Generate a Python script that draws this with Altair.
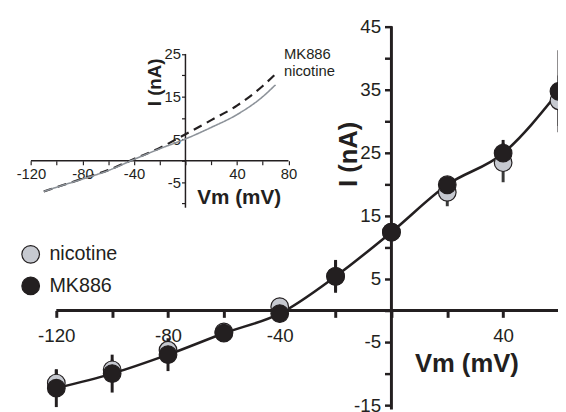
import altair as alt
import pandas as pd

# ---------------- data ----------------
vm = [-120, -100, -80, -60, -40, -20, 0, 20, 40, 60]
i_nicotine = [-11.5, -9.4, -6.3, -3.4, 0.6, 5.4, 12.4, 18.7, 23.4, 33.2]
err_nicotine = [2.1, 1.6, 1.0, 1.0, 1.0, 2.4, 1.0, 2.2, 3.1, 4.0]
i_mk886 = [-12.3, -10.0, -7.0, -3.6, -0.5, 5.4, 12.4, 19.9, 24.9, 34.7]
err_mk886 = [3.0, 3.0, 2.6, 1.0, 1.0, 2.6, 1.0, 1.0, 2.1, 6.5]

inset_vm = [-110, -100, -80, -60, -40, -20, 0, 20, 40, 60, 70]
inset_mk886 = [-7.2, -6.2, -4.2, -2.2, 0.4, 3.0, 6.2, 9.5, 12.9, 17.5, 20.3]
inset_nicotine = [-7.2, -6.2, -4.3, -2.3, 0.3, 2.8, 5.1, 7.8, 10.8, 15.0, 17.8]

series_order = ["nicotine", "MK886"]
main_x_ticks = list(range(-120, 61, 20))
main_y_ticks = list(range(-15, 46, 5))
inset_x_ticks = list(range(-120, 81, 20))
inset_y_ticks = list(range(-10, 26, 5))

# ---------------- styling ----------------
FONT = "Liberation Sans"
BLACK = "#231f20"
GRAY_FILL = "#c6c9d0"
GRAY_LINE = "#8c9299"
W, H = 558, 404

main_df = pd.DataFrame({
    "vm": vm + vm,
    "i": i_nicotine + i_mk886,
    "err": err_nicotine + err_mk886,
    "series": ["nicotine"] * len(vm) + ["MK886"] * len(vm),
})
main_axes_df = pd.DataFrame({"x1": [-120, 0], "x2": [60, 0], "y1": [0, -15.7], "y2": [0, 45]})

inset_df = pd.DataFrame({
    "vm": inset_vm + inset_vm,
    "i": inset_mk886 + inset_nicotine,
    "series": ["MK886"] * len(inset_vm) + ["nicotine"] * len(inset_vm),
})
inset_axes_df = pd.DataFrame({"x1": [-120, 0], "x2": [80, 0], "y1": [0, -11], "y2": [0, 25]})

# ---------------- main scales / axes ----------------
mx_scale = alt.Scale(domain=[-137.3, 59.65], nice=False, zero=False)
my_scale = alt.Scale(domain=[-15.62, 47.43], nice=False, zero=False)

mx_axis = alt.Axis(
    orient="bottom", offset=-100.1, values=main_x_ticks, domain=False, grid=False,
    tickSize=7, tickWidth=3, tickColor=BLACK,
    labelFont=FONT, labelFontSize=19, labelColor=BLACK, labelPadding=10,
    labelFlush=False, labelOverlap=False,
    labelExpr="(datum.value % 40 == 0 && datum.value != 0) ? ('' + datum.value) : ''",
    title="Vm (mV)", titleFont=FONT, titleFontSize=26, titleFontWeight="bold",
    titleColor=BLACK, titleX=465, titleY=54, titleAlign="center", titleBaseline="middle",
)
my_axis = alt.Axis(
    orient="left", offset=-389, values=main_y_ticks, domain=False, grid=False,
    tickSize=7, tickWidth=2.5, tickColor=BLACK,
    labelFont=FONT, labelFontSize=19, labelColor=BLACK, labelPadding=4,
    labelFlush=False, labelOverlap=False,
    labelExpr="((datum.value + 15) % 10 == 0) ? ('' + datum.value) : ''",
    title="I (nA)", titleFont=FONT, titleFontSize=26, titleFontWeight="bold",
    titleColor=BLACK, titleX=-43, titleY=145, titleAngle=270,
    titleAlign="center", titleBaseline="middle",
)

mx = lambda f: alt.X(f, type="quantitative", scale=mx_scale, axis=mx_axis)
my = lambda f: alt.Y(f, type="quantitative", scale=my_scale, axis=my_axis)

main_rules = alt.Chart(main_axes_df).mark_rule(color=BLACK, strokeWidth=3).encode(
    x=mx("x1"), x2="x2", y=my("y1"), y2="y2")

base = alt.Chart(main_df).transform_calculate(
    lo="datum.i - datum.err", hi="datum.i + datum.err")

err_nic = base.transform_filter("datum.series == 'nicotine'").mark_rule(
    color="#3a3a3a", strokeWidth=3).encode(x=mx("vm"), y=my("lo"), y2="hi")
err_mk = base.transform_filter("datum.series == 'MK886'").mark_rule(
    color=BLACK, strokeWidth=3).encode(x=mx("vm"), y=my("lo"), y2="hi")
line_mk = base.transform_filter("datum.series == 'MK886'").mark_line(
    color=BLACK, strokeWidth=2.6, interpolate="monotone").encode(x=mx("vm"), y=my("i"))

points = base.mark_circle(size=320, opacity=1, stroke=BLACK, strokeWidth=1.2).encode(
    x=mx("vm"), y=my("i"),
    fill=alt.Fill("series:N", scale=alt.Scale(domain=series_order, range=[GRAY_FILL, BLACK]),
                  legend=alt.Legend(orient="none", legendX=13, legendY=237, title=None,
                                    symbolType="circle", symbolSize=320,
                                    symbolStrokeColor=BLACK, symbolStrokeWidth=1.2,
                                    labelFont=FONT, labelFontSize=20, labelColor=BLACK,
                                    labelOffset=9, rowPadding=8, padding=0)),
)

main = alt.layer(main_rules, err_nic, line_mk, err_mk, points)

# ---------------- inset scales / axes ----------------
ix_scale = alt.Scale(domain=[-137.8, 289.3], nice=False, zero=False)
iy_scale = alt.Scale(domain=[-58.15, 35.08], nice=False, zero=False)

ix_axis = alt.Axis(
    orient="bottom", offset=-252, values=inset_x_ticks, domain=False, grid=False,
    tickSize=4, tickWidth=1.2, tickColor=BLACK,
    labelFont=FONT, labelFontSize=15, labelColor=BLACK, labelPadding=2,
    labelFlush=False, labelOverlap=False,
    labelExpr="(datum.value % 40 == 0 && datum.value != 0) ? ('' + datum.value) : ''",
    title="Vm (mV)", titleFont=FONT, titleFontSize=21, titleFontWeight="bold",
    titleColor=BLACK, titleX=234, titleY=37, titleAlign="center", titleBaseline="middle",
)
iy_axis = alt.Axis(
    orient="left", offset=-180, values=inset_y_ticks, domain=False, grid=False,
    tickSize=4, tickWidth=1.2, tickColor=BLACK,
    labelFont=FONT, labelFontSize=15, labelColor=BLACK, labelPadding=1,
    labelFlush=False, labelOverlap=False,
    labelExpr="((datum.value + 5) % 10 == 0) ? ('' + datum.value) : ''",
    title="I (nA)", titleFont=FONT, titleFontSize=19, titleFontWeight="bold",
    titleColor=BLACK, titleX=-31, titleY=72, titleAngle=270,
    titleAlign="center", titleBaseline="middle",
)

ix = lambda f: alt.X(f, type="quantitative", scale=ix_scale, axis=ix_axis)
iy = lambda f: alt.Y(f, type="quantitative", scale=iy_scale, axis=iy_axis)

inset_rules = alt.Chart(inset_axes_df).mark_rule(color=BLACK, strokeWidth=1.5).encode(
    x=ix("x1"), x2="x2", y=iy("y1"), y2="y2")

inset_lines = alt.Chart(inset_df).mark_line(interpolate="monotone").encode(
    x=ix("vm"), y=iy("i"),
    stroke=alt.Stroke("series:N", scale=alt.Scale(domain=["MK886", "nicotine"], range=[BLACK, GRAY_LINE]),
                      legend=alt.Legend(orient="none", legendX=265, legendY=36, title=None,
                                        symbolOpacity=0, symbolSize=0, symbolStrokeWidth=0,
                                        labelFont=FONT, labelFontSize=15, labelColor=BLACK,
                                        labelOffset=0, rowPadding=2, padding=0)),
    strokeDash=alt.StrokeDash("series:N", scale=alt.Scale(domain=["MK886", "nicotine"], range=[[9, 6], [1, 0]]),
                              legend=None),
    strokeWidth=alt.StrokeWidth("series:N", scale=alt.Scale(domain=["MK886", "nicotine"], range=[2.2, 1.6]),
                                legend=None),
)

inset = alt.layer(inset_rules, inset_lines)

chart = alt.layer(main, inset).resolve_scale(
    x="independent", y="independent"
).resolve_axis(
    x="independent", y="independent"
).properties(
    width=W, height=H, autosize=alt.AutoSizeParams(type="none"), padding=0,
).configure_view(stroke=None)

chart.save("out.html", embed_options={"renderer": "svg", "actions": False})
